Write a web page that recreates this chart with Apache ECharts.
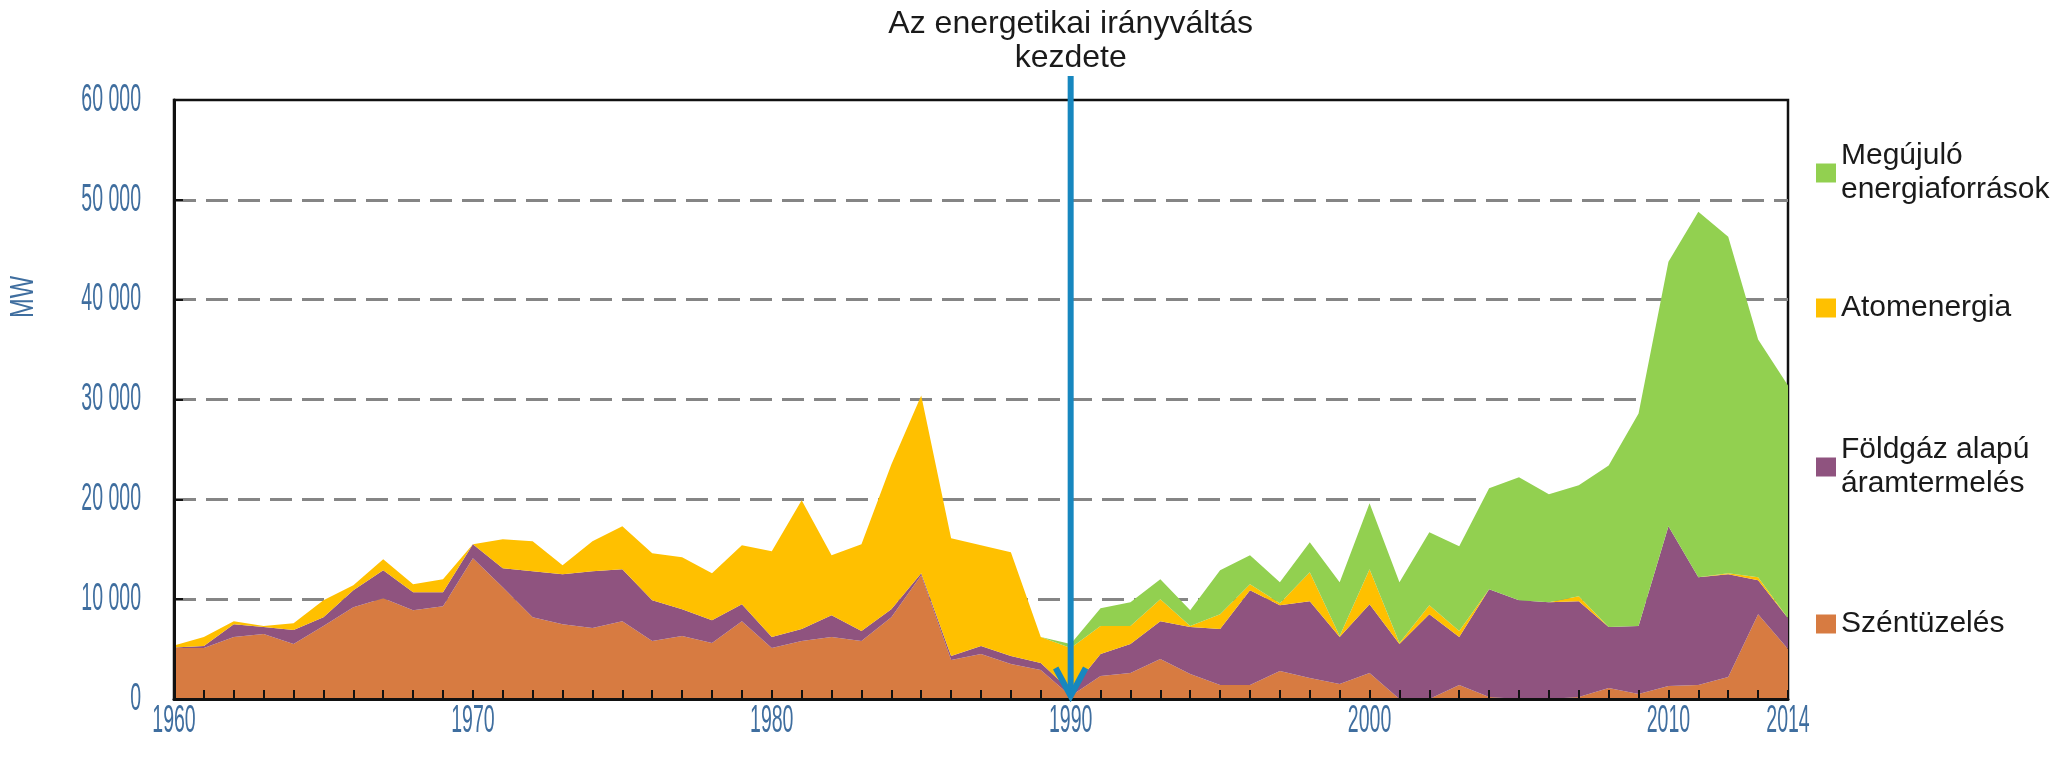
<!DOCTYPE html>
<html>
<head>
<meta charset="utf-8">
<script src="https://cdn.jsdelivr.net/npm/echarts@6.0.0/dist/echarts.min.js"></script>
<style>
  html, body { margin: 0; padding: 0; background: #fff; }
  #chart { width: 2071px; height: 763px; }
</style>
</head>
<body>
<div id="chart"></div>
<script>
const years = ['1960','1961','1962','1963','1964','1965','1966','1967','1968','1969',
  '1970','1971','1972','1973','1974','1975','1976','1977','1978','1979',
  '1980','1981','1982','1983','1984','1985','1986','1987','1988','1989',
  '1990','1991','1992','1993','1994','1995','1996','1997','1998','1999',
  '2000','2001','2002','2003','2004','2005','2006','2007','2008','2009',
  '2010','2011','2012','2013','2014'];
const xTickLabels = ['1960', '1970', '1980', '1990', '2000', '2010', '2014'];
const yTickLabels = ['0', '10 000', '20 000', '30 000', '40 000', '50 000', '60 000'];

// MW
const coal = [5100, 5100, 6200, 6500, 5500, 7300, 9200, 10100, 8900, 9300,
  14100, 11200, 8200, 7500, 7100, 7800, 5800, 6300, 5600, 7800,
  5100, 5800, 6200, 5800, 8200, 12400, 3900, 4500, 3500, 2900,
  300, 2300, 2600, 4000, 2500, 1400, 1400, 2800, 2100, 1500,
  2600, 0, 0, 1400, 200, 0, 0, 200, 1100, 500,
  1300, 1400, 2200, 8500, 5000];
const gas = [50, 200, 1300, 700, 1400, 900, 1700, 2800, 1800, 1400,
  1400, 1900, 4600, 5000, 5700, 5200, 4100, 2700, 2300, 1700,
  1100, 1200, 2200, 1000, 800, 200, 400, 800, 800, 700,
  500, 2200, 2900, 3800, 4700, 5600, 9500, 6600, 7700, 4700,
  6900, 5500, 8500, 4800, 10800, 9900, 9700, 9600, 6100, 6800,
  16000, 10800, 10300, 3400, 3100];
const nuclear = [200, 900, 300, 100, 700, 1700, 500, 1100, 800, 1300,
  0, 2900, 3000, 900, 3000, 4300, 4700, 5200, 4700, 5900,
  8600, 12900, 6000, 8700, 14500, 17800, 11800, 10100, 10400, 2600,
  4300, 2800, 1800, 2200, 100, 1500, 600, 200, 2900, 100,
  3500, 100, 900, 600, 0, 0, 0, 500, 0, 0,
  0, 0, 100, 300, 0];
const renewable = [0, 0, 0, 0, 0, 0, 0, 0, 0, 0,
  0, 0, 0, 0, 0, 0, 0, 0, 0, 0,
  0, 0, 0, 0, 0, 0, 0, 0, 0, 0,
  400, 1800, 2400, 2000, 1600, 4400, 2900, 2100, 3000, 5400,
  6600, 6100, 7300, 8500, 10100, 12300, 10800, 11100, 16200, 21300,
  26500, 36600, 33700, 23800, 23300];

const names = ['Széntüzelés', 'Földgáz alapú\náramtermelés', 'Atomenergia', 'Megújuló\nenergiaforrások'];
const colors = ['#D77B41', '#8F537F', '#FFC000', '#92D050'];
const seriesData = [coal, gas, nuclear, renewable];

const blue = '#3f6e9f';
const sans = "'Liberation Sans', Arial, sans-serif";

const chart = echarts.init(document.getElementById('chart'), null, { renderer: 'canvas' });

// one legend block per entry, stacked top-down like the original
const legendTops = [607, 433, 291, 139];
const legends = names.map((n, i) => ({
  data: [n],
  orient: 'vertical',
  left: 1816,
  top: legendTops[i],
  padding: 0,
  icon: 'rect',
  itemWidth: 20,
  itemHeight: 19,
  selectedMode: false,
  textStyle: { fontFamily: sans, fontSize: 30, lineHeight: 34, color: '#1a1a1a' }
}));

const options = {
  animation: false,
  backgroundColor: '#fff',
  legend: legends,
  grid: {
    left: 174, right: 283, top: 100, bottom: 64,
    show: true, borderColor: '#111', borderWidth: 2.5, backgroundColor: 'transparent'
  },
  xAxis: {
    type: 'category',
    data: years,
    boundaryGap: false,
    z: 5,
    axisLine: { lineStyle: { color: '#111', width: 3 } },
    axisTick: { inside: true, length: 9, interval: 0, lineStyle: { color: '#111', width: 2 } },
    axisLabel: { show: false },
    splitLine: { show: false }
  },
  yAxis: [
    {
      type: 'value',
      min: 0, max: 60000, interval: 10000,
      axisLine: { show: false },
      axisTick: { show: false },
      axisLabel: { show: false },
      splitLine: {
        show: true, showMinLine: false, showMaxLine: false,
        lineStyle: { color: '#858585', width: 3, type: [22, 10] }
      }
    },
    {
      // black left frame with small inner ticks, drawn above the areas
      type: 'value',
      position: 'left',
      min: 0, max: 60000, interval: 10000,
      z: 5,
      axisLine: { show: true, lineStyle: { color: '#111', width: 3 } },
      axisTick: { show: true, inside: true, length: 9, lineStyle: { color: '#111', width: 2 } },
      axisLabel: { show: false },
      splitLine: { show: false }
    }
  ],
  series: seriesData.map((d, i) => ({
    name: names[i],
    type: 'line',
    stack: 'total',
    yAxisIndex: 0,
    data: d,
    symbol: 'none',
    lineStyle: { width: 0 },
    areaStyle: { color: colors[i], opacity: 1 },
    itemStyle: { color: colors[i] },
    z: 2
  }))
};

chart.setOption(options);

// condensed tick labels (no narrow font installed, so squeeze them horizontally)
const tickFont = { fontFamily: sans, fontSize: 39, fill: blue };
const squeeze = 0.5;
const labelGraphics = [];
yTickLabels.forEach((t, i) => {
  const py = chart.convertToPixel({ yAxisIndex: 0 }, i * 10000);
  labelGraphics.push({
    type: 'text', x: 141, y: py, scaleX: squeeze,
    style: Object.assign({ text: t, align: 'right', verticalAlign: 'middle' }, tickFont)
  });
});
xTickLabels.forEach((t) => {
  const px = chart.convertToPixel({ xAxisIndex: 0 }, t);
  labelGraphics.push({
    type: 'text', x: px, y: 721, scaleX: squeeze,
    style: Object.assign({ text: t, align: 'center', verticalAlign: 'middle' }, tickFont)
  });
});

// arrow + caption at the 1990 turning point
const ax = chart.convertToPixel({ xAxisIndex: 0 }, '1990');
const ay = chart.convertToPixel({ yAxisIndex: 0 }, 0);
const arrowColor = '#1787BF';
chart.setOption({
  graphic: labelGraphics.concat([
    {
      type: 'line', z: 20,
      shape: { x1: ax, y1: 76, x2: ax, y2: ay - 3 },
      style: { stroke: arrowColor, lineWidth: 6 }
    },
    {
      type: 'polyline', z: 20,
      shape: { points: [[ax - 15, ay - 31], [ax, ay - 3], [ax + 15, ay - 31]] },
      style: { stroke: arrowColor, lineWidth: 6, fill: null }
    },
    {
      type: 'text', z: 20,
      x: ax, y: 7,
      style: {
        text: 'Az energetikai irányváltás\nkezdete',
        fontFamily: sans, fontSize: 32, lineHeight: 34,
        fill: '#1a1a1a', align: 'center', verticalAlign: 'top'
      }
    },
    {
      type: 'text', z: 20,
      x: 24, y: 297, rotation: Math.PI / 2, scaleX: 0.72,
      style: {
        text: 'MW', fontFamily: sans, fontSize: 33,
        fill: blue, align: 'center', verticalAlign: 'middle'
      }
    }
  ])
});

window.addEventListener('resize', () => chart.resize());
</script>
</body>
</html>
